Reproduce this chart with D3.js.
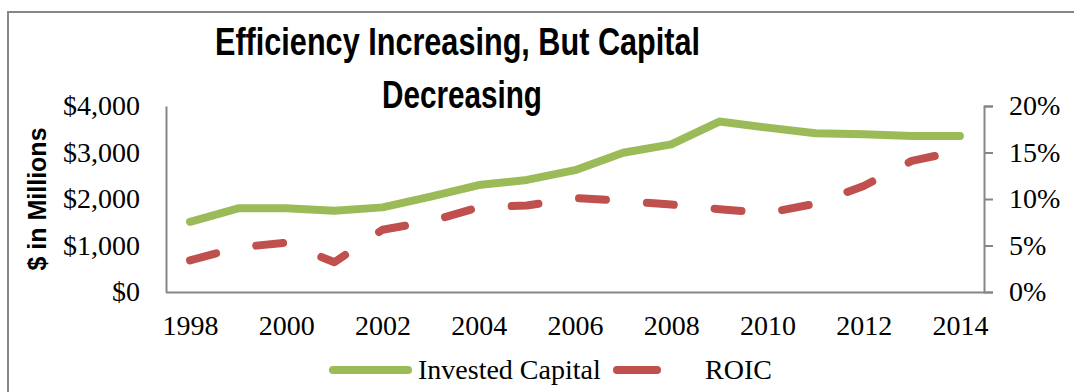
<!DOCTYPE html>
<html>
<head>
<meta charset="utf-8">
<script src="https://cdn.jsdelivr.net/npm/d3@7"></script>
<style>
  body { margin: 0; background: #fff; }
  svg { display: block; }
</style>
</head>
<body>
<svg></svg>
<script>
  let years = [1998, 1999, 2000, 2001, 2002, 2003, 2004, 2005, 2006, 2007, 2008, 2009, 2010, 2011, 2012, 2013, 2014]
  let investedCapital = [1510, 1800, 1800, 1745, 1820, 2050, 2300, 2410, 2620, 2995, 3175, 3665, 3535, 3415, 3390, 3355, 3355]
  let roic = [3.4, 4.8, 5.3, 3.2, 6.7, 7.6, 9.1, 9.3, 10.1, 9.8, 9.4, 8.9, 8.5, 9.5, 11.4, 14.1, 15.2]
  let leftTicks = [0, 1000, 2000, 3000, 4000]
  let rightTicks = [0, 5, 10, 15, 20]
  let xLabels = [1998, 2000, 2002, 2004, 2006, 2008, 2010, 2012, 2014]

  let svgWidth = 1074, svgHeight = 392
  let plotLeft = 166, plotRight = 984, plotTop = 106, plotBottom = 292
  let green = '#9bbb59', red = '#c0504d', axisGray = '#868686'
  let serif = '"Liberation Serif", "Times New Roman", serif'
  let sans = '"Liberation Sans", Arial, sans-serif'

  let svg = d3.select('svg')
    .attr('width', svgWidth)
    .attr('height', svgHeight)

  // rand van de chart
  svg.append('path')
    .attr('d', `M8,${svgHeight} V12 H${svgWidth}`)
    .attr('fill', 'none')
    .attr('stroke', '#878787')
    .attr('stroke-width', 2)

  let x = d3.scalePoint().domain(years).range([plotLeft, plotRight]).padding(0.5)
  let yLeft = d3.scaleLinear().domain([0, 4000]).range([plotBottom, plotTop])
  let yRight = d3.scaleLinear().domain([0, 20]).range([plotBottom, plotTop])

  // assen
  svg.append('g')
    .attr('transform', `translate(${plotLeft},0)`)
    .call(d3.axisLeft(yLeft).tickValues(leftTicks).tickSize(0).tickPadding(26)
      .tickFormat(d => '$' + d3.format(',')(d)))

  svg.append('g')
    .attr('transform', `translate(${plotRight},0)`)
    .call(d3.axisRight(yRight).tickValues(rightTicks).tickSize(9).tickPadding(16)
      .tickFormat(d => d + '%'))

  let bottomAxis = svg.append('g')
    .attr('transform', `translate(0,${plotBottom})`)
    .call(d3.axisBottom(x).tickValues(xLabels).tickSize(0).tickPadding(23))

  bottomAxis.select('.domain').attr('d', `M${plotLeft},0.5H${plotRight}`)

  svg.selectAll('.domain').attr('stroke', axisGray).attr('stroke-width', 2)
  svg.selectAll('.tick line').attr('stroke', axisGray).attr('stroke-width', 2)
  svg.selectAll('.tick text')
    .attr('font-family', serif)
    .attr('font-size', '28px')
    .attr('fill', '#000')

  // lijnen
  let capLine = d3.line().x((d, i) => x(years[i])).y(d => yLeft(d))
  let roicLine = d3.line().x((d, i) => x(years[i])).y(d => yRight(d))

  svg.append('path')
    .datum(investedCapital)
    .attr('d', capLine)
    .attr('fill', 'none')
    .attr('stroke', green)
    .attr('stroke-width', 8)
    .attr('stroke-linecap', 'round')
    .attr('stroke-linejoin', 'round')

  svg.append('path')
    .datum(roic)
    .attr('d', roicLine)
    .attr('fill', 'none')
    .attr('stroke', red)
    .attr('stroke-width', 8)
    .attr('stroke-linecap', 'round')
    .attr('stroke-linejoin', 'round')
    .attr('stroke-dasharray', '27,41')

  // titel
  let title = svg.append('g')
    .attr('font-family', '"Liberation Sans Narrow", ' + sans)
    .attr('font-weight', 'bold')
    .attr('font-size', '38px')
    .attr('fill', '#000')

  title.append('text')
    .attr('x', 215).attr('y', 55)
    .attr('textLength', 485)
    .attr('lengthAdjust', 'spacingAndGlyphs')
    .text('Efficiency Increasing, But Capital')

  title.append('text')
    .attr('x', 382).attr('y', 108)
    .attr('textLength', 160)
    .attr('lengthAdjust', 'spacingAndGlyphs')
    .text('Decreasing')

  // as titel
  svg.append('text')
    .attr('transform', `translate(46,${(plotTop + plotBottom) / 2}) rotate(-90)`)
    .attr('text-anchor', 'middle')
    .attr('font-family', sans)
    .attr('font-weight', 'bold')
    .attr('font-size', '25px')
    .text('$ in Millions')

  // legenda
  let legendItems = [
    { name: 'Invested Capital', color: green, x1: 333, x2: 408, tx: 418 },
    { name: 'ROIC', color: red, x1: 617, x2: 657, tx: 705 }
  ]

  let legend = svg.selectAll('.legend')
    .data(legendItems)
    .enter()
    .append('g')
    .attr('class', 'legend')

  legend.append('line')
    .attr('x1', d => d.x1).attr('x2', d => d.x2)
    .attr('y1', 370).attr('y2', 370)
    .attr('stroke', d => d.color)
    .attr('stroke-width', 8)
    .attr('stroke-linecap', 'round')

  legend.append('text')
    .attr('x', d => d.tx).attr('y', 379)
    .attr('font-family', serif)
    .attr('font-size', '28px')
    .text(d => d.name)
</script>
</body>
</html>
